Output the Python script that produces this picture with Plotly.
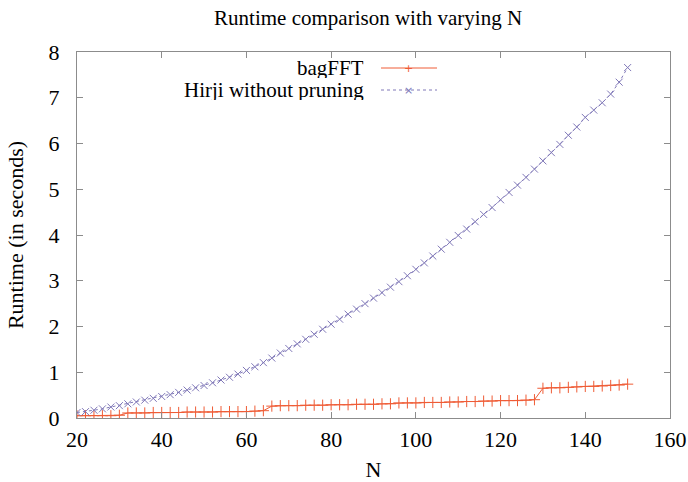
import plotly.graph_objects as go

N = list(range(20, 151, 2))

bagfft = [0.05, 0.05, 0.05, 0.05, 0.05, 0.06,
          0.11, 0.11, 0.11, 0.12, 0.12, 0.12, 0.12, 0.13, 0.13, 0.13, 0.13, 0.14, 0.14, 0.14, 0.14, 0.15, 0.16,
          0.26, 0.27, 0.27, 0.27, 0.28, 0.28, 0.28, 0.29, 0.29, 0.29, 0.30, 0.30, 0.30, 0.31, 0.31, 0.33,
          0.33, 0.33, 0.34, 0.34, 0.34, 0.35, 0.35, 0.36, 0.36, 0.37, 0.37, 0.38, 0.38, 0.38, 0.39, 0.40,
          0.65, 0.66, 0.66, 0.67, 0.68, 0.69, 0.69, 0.70, 0.71, 0.72, 0.74]

hirji = [0.12, 0.14, 0.17, 0.20, 0.24, 0.27, 0.31, 0.35, 0.39, 0.43,
         0.47, 0.51, 0.56, 0.61, 0.66, 0.71, 0.77, 0.83, 0.89, 0.96,
         1.04, 1.12, 1.21, 1.31, 1.42, 1.52, 1.62, 1.72, 1.83, 1.94,
         2.05, 2.16, 2.27, 2.38, 2.50, 2.62, 2.74, 2.86, 2.98, 3.11,
         3.25, 3.39, 3.54, 3.69, 3.84, 3.99, 4.13, 4.29, 4.45, 4.60,
         4.77, 4.93, 5.09, 5.26, 5.44, 5.62, 5.80, 5.98, 6.18, 6.36,
         6.57, 6.73, 6.89, 7.08, 7.34, 7.66]

series_names = ["bagFFT", "Hirji without pruning"]
x_ticks = [20, 40, 60, 80, 100, 120, 140, 160]
y_ticks = [0, 1, 2, 3, 4, 5, 6, 7, 8]

C_BAG = "#ef5c36"
C_HIR = "#8078b8"
FONT = "Liberation Serif"

fig = go.Figure()
fig.add_trace(go.Scatter(
    x=N, y=bagfft, mode="lines+markers", name=series_names[0],
    line=dict(color=C_BAG, width=1),
    marker=dict(symbol="cross-thin-open", size=8, line=dict(color=C_BAG, width=1)),
    showlegend=False))
fig.add_trace(go.Scatter(
    x=N, y=hirji, mode="lines+markers", name=series_names[1],
    line=dict(color=C_HIR, width=1, dash="dot"),
    marker=dict(symbol="x-thin-open", size=7, line=dict(color=C_HIR, width=1)),
    showlegend=False))

# gnuplot-style legend key (text right-aligned, sample on the right)
leg_rows = [(series_names[0], C_BAG, "solid", "+"), (series_names[1], C_HIR, "dot", "×")]
W, H = 688, 482
L, R, T, B = 77, 18, 52, 64
pw, ph = W - L - R, H - T - B
def px(x):
    return (x - L) / pw
def py(y):
    return 1 - (y - T) / ph
for i, (txt, col, dash, glyph) in enumerate(leg_rows):
    yy = 68 + i * 22
    fig.add_annotation(xref="paper", yref="paper", x=px(366), y=py(yy), text=txt,
                       showarrow=False, xanchor="right", yanchor="middle", height=20,
                       font=dict(family=FONT, size=21, color="black"))
    fig.add_shape(type="line", xref="paper", yref="paper", x0=px(381), x1=px(437),
                  y0=py(yy), y1=py(yy), line=dict(color=col, width=1, dash=dash))
    fig.add_annotation(xref="paper", yref="paper", x=px(409), y=py(yy), text=glyph,
                       showarrow=False, xanchor="center", yanchor="middle", height=12,
                       font=dict(family="DejaVu Sans", size=11, color=col))

axis_common = dict(showline=True, linecolor="#8c8c8c", linewidth=1, mirror="ticks",
                   ticks="inside", ticklen=6, tickcolor="#8c8c8c", showgrid=False, zeroline=False,
                   automargin=False,
                   tickfont=dict(family=FONT, size=22, color="black"))
fig.update_xaxes(range=[20, 160], tickvals=x_ticks, ticktext=[str(v) for v in x_ticks],
                 ticklabelstandoff=2,
                 title=dict(text="N", font=dict(family=FONT, size=22, color="black"), standoff=20),
                 **axis_common)
fig.update_yaxes(range=[0, 8], tickvals=y_ticks, ticktext=[str(v) for v in y_ticks],
                 ticklabelstandoff=12,
                 title=dict(text="Runtime (in seconds)", font=dict(family=FONT, size=22, color="black"), standoff=18),
                 **axis_common)
fig.update_layout(
    width=W, height=H,
    margin=dict(l=L, r=R, t=T, b=B, autoexpand=False),
    paper_bgcolor="white", plot_bgcolor="white",
    title=dict(text="Runtime comparison with varying N", x=0.535, xanchor="center", y=0.963, yanchor="middle",
               font=dict(family=FONT, size=21, color="black")),
)
fig.write_html("out.html")
